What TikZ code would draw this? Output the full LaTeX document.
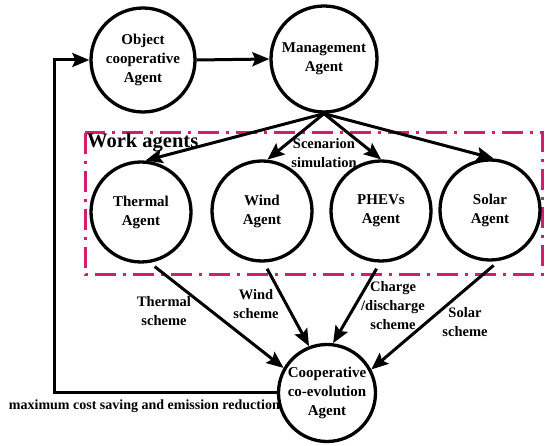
\documentclass[tikz,border=0pt]{standalone}
\usepackage{fontspec}
\setmainfont{Liberation Serif}
\usetikzlibrary{arrows.meta}
\definecolor{boxpink}{RGB}{210,30,110}
\begin{document}
\begin{tikzpicture}[x=1pt,y=-1pt,
  agent/.style={circle,draw,line width=3.3pt,inner sep=0pt,align=center,
    font=\fontsize{15}{19}\selectfont\bfseries},
  conn/.style={line width=3pt,-{Stealth[length=17pt,width=14pt,inset=3pt]}},
  lbl/.style={inner sep=0pt,align=center,font=\fontsize{14.5}{19}\selectfont\bfseries},
  workbox/.style={draw=boxpink,line width=3pt,dash pattern=on 21pt off 7pt on 3pt off 7pt}]
\useasboundingbox (0,0) rectangle (550,446);
% work agents frame
\draw[workbox] (85,133) rectangle (542,275);
\node[inner sep=0pt,anchor=base west,font=\fontsize{20.5}{24}\selectfont\bfseries] (worklbl) at (87,148) {Work agents};
% agents
\node[agent,minimum size=104pt] (obj) at (143,60) {Object\\cooperative\\Agent};
\node[agent,minimum size=106pt] (mgmt) at (324,59) {Management\\Agent};
\node[agent,minimum size=100pt] (thermal) at (141,212) {Thermal\\Agent};
\node[agent,minimum size=100pt] (wind) at (262,211) {Wind\\Agent};
\node[agent,minimum size=100pt] (phevs) at (381,211) {PHEVs\\Agent};
\node[agent,minimum size=100pt] (solar) at (490,210) {Solar\\Agent};
\node[agent,minimum size=97pt] (coop) at (327,393) {Cooperative\\co-evolution\\Agent};
\coordinate (loopx) at (54,226);
% connectors
\draw[conn] (obj.east) -- (mgmt.west);
\draw[conn] (mgmt.south) -- (thermal.85);
\draw[conn] (mgmt.south) -- (wind.84);
\draw[conn] (mgmt.south) -- (phevs.north);
\draw[conn] (mgmt.south) -- (solar.86);
\draw[conn,shorten <=6pt] (thermal.-80) -- (coop.150);
\draw[conn,shorten <=7pt] (wind.-88) -- (coop.111);
\draw[conn,shorten <=7pt] (phevs.-91) -- (coop.83);
\draw[conn,shorten <=7pt] (solar.-80) -- (coop.28);
\draw[conn] (coop.west) -| (loopx) |- (obj.west);
% labels
\node[lbl] (scen) at (324,153) {Scenarion\\simulation};
\node[lbl] (thlbl) at (164,311.5) {Thermal\\scheme};
\node[lbl] (wilbl) at (256,304) {Wind\\scheme};
\node[lbl] (chlbl) at (393,306) {Charge\\/discharge\\scheme};
\node[lbl] (solbl) at (465,322) {Solar\\scheme};
\node[lbl,anchor=east,font=\fontsize{14}{17}\selectfont\bfseries] (maxlbl) at (280,406) {maximum cost saving and emission reduction};
\end{tikzpicture}
\end{document}
